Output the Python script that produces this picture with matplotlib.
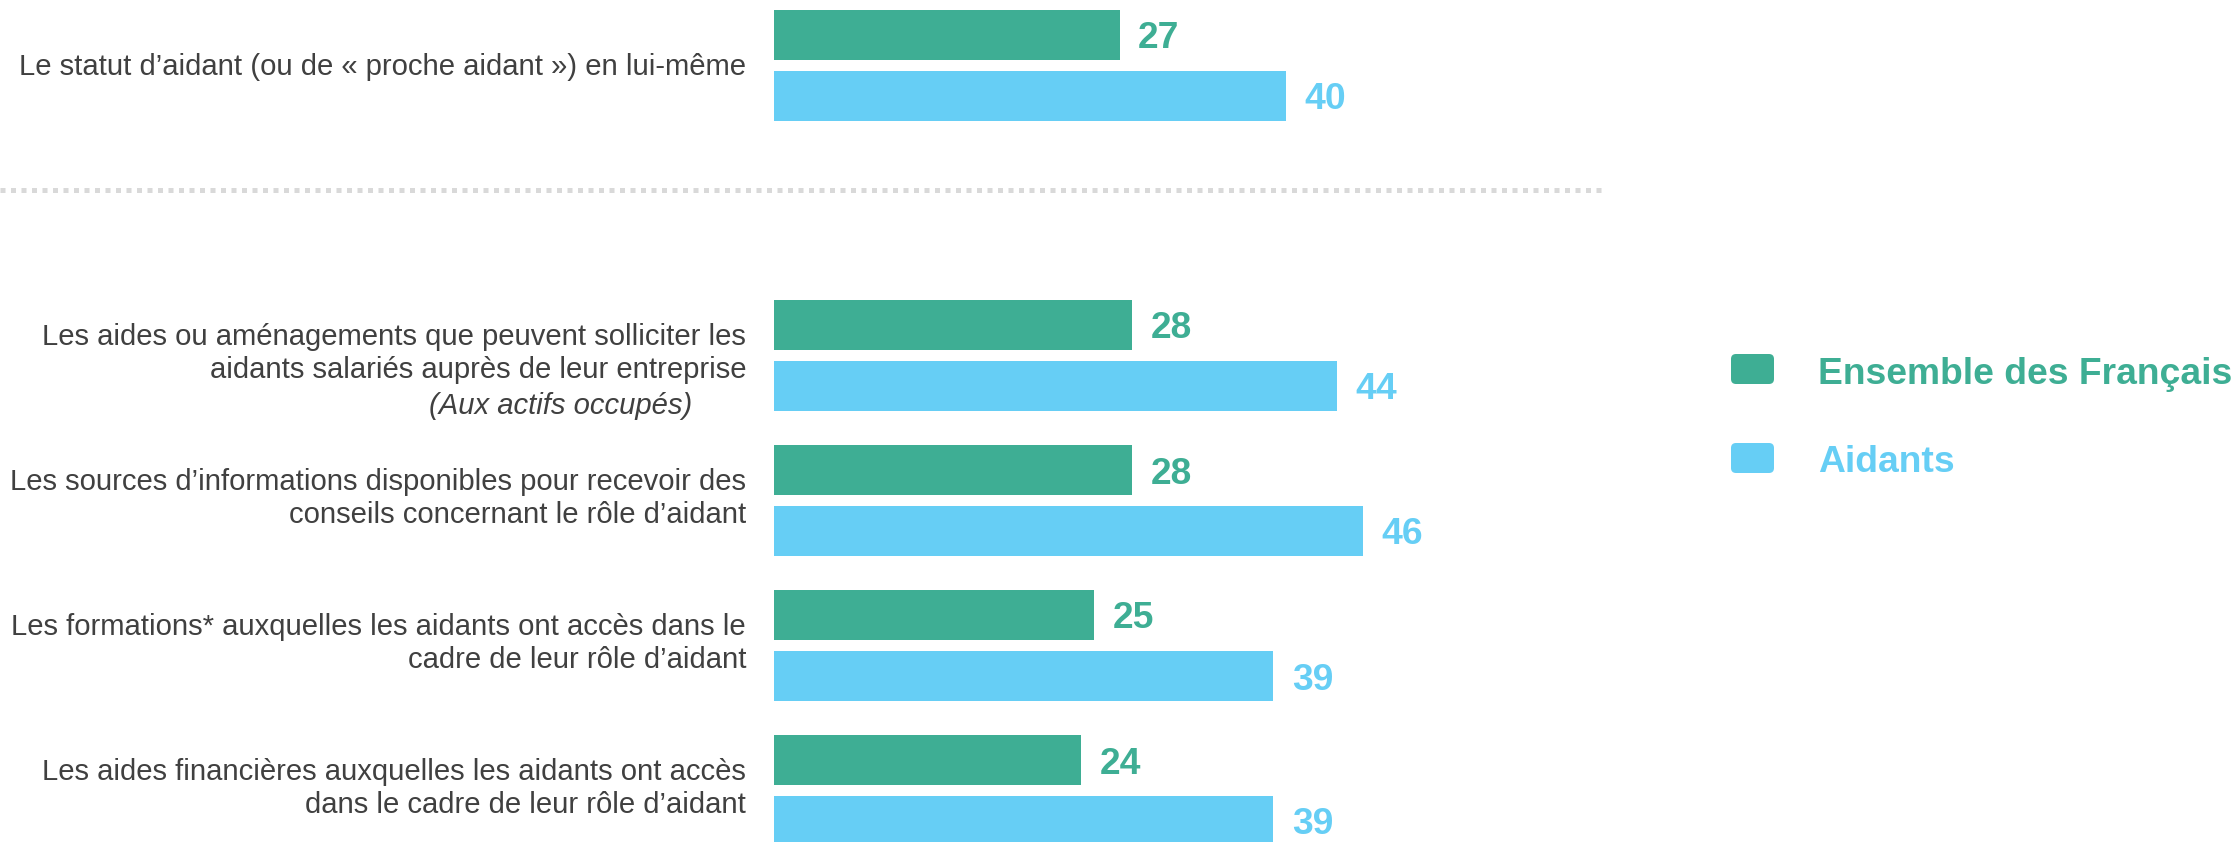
import matplotlib
matplotlib.use("Agg")
import matplotlib.pyplot as plt
from matplotlib.patches import FancyBboxPatch

plt.rcParams['font.family'] = ['Liberation Sans', 'DejaVu Sans']

categories = [
    "Le statut d’aidant (ou de « proche aidant ») en lui-même",
    "Les aides ou aménagements que peuvent solliciter les\naidants salariés auprès de leur entreprise",
    "Les sources d’informations disponibles pour recevoir des\nconseils concernant le rôle d’aidant",
    "Les formations* auxquelles les aidants ont accès dans le\ncadre de leur rôle d’aidant",
    "Les aides financières auxquelles les aidants ont accès\ndans le cadre de leur rôle d’aidant",
]
note_text = "(Aux actifs occupés)"
series_names = ["Ensemble des Français", "Aidants"]
ensemble = [27, 28, 28, 25, 24]
aidants = [40, 44, 46, 39, 39]

GREEN = "#3EAE94"
BLUE = "#66CEF5"
TEXT = "#404040"

W, H = 2236, 842
fig = plt.figure(figsize=(W / 100, H / 100), dpi=100)
ax = fig.add_axes([0, 0, 1, 1])
ax.axis('off')

PX_X = 12.8      # pixels per value unit
PX_Y = 145.0     # pixels per row
x0 = 774.0       # bar origin in pixels
y0 = 65.5        # first row centre in pixels
ax.set_xlim(-x0 / PX_X, (W - x0) / PX_X)
ax.set_ylim(-y0 / PX_Y + H / PX_Y, -y0 / PX_Y)

rows = [0, 2, 3, 4, 5]
bh = 50 / PX_Y
off = 30.5 / PX_Y

ax.barh([r - off for r in rows], ensemble, height=bh, color=GREEN, left=0)
ax.barh([r + off for r in rows], aidants, height=bh, color=BLUE, left=0)

dx = 18.5 / PX_X
vdy = 4 / PX_Y
for r, v in zip(rows, ensemble):
    ax.text(v + dx, r - off + vdy, str(v), color=GREEN, fontsize=26.8,
            fontweight='bold', va='center', ha='left')
for r, v in zip(rows, aidants):
    ax.text(v + dx, r + off + vdy, str(v), color=BLUE, fontsize=26.8,
            fontweight='bold', va='center', ha='left')

lx = -28 / PX_X
for r, c in zip(rows, categories):
    dy = 2 if "\n" not in c else -2
    ax.text(lx, r + dy / PX_Y, c, color=TEXT, fontsize=21.1, ha='right',
            va='center', multialignment='right', linespacing=1.26)
ax.text((692 - x0) / PX_X, rows[1] + (407 - 356) / PX_Y, note_text,
        color=TEXT, fontsize=21.1, style='italic', ha='right', va='center')

# dotted separator
sep_y = (190 - y0) / PX_Y
ax.plot([-x0 / PX_X, (1605 - x0) / PX_X], [sep_y, sep_y], color="#D9D9D9",
        lw=3.6, linestyle=(0, (1, 1.1)), solid_capstyle='butt',
        dash_capstyle='butt')

# legend (pixel coordinate overlay)
lg = fig.add_axes([0, 0, 1, 1])
lg.set_xlim(0, W)
lg.set_ylim(H, 0)
lg.axis('off')
for i, (name, col) in enumerate(zip(series_names, [GREEN, BLUE])):
    top = 354 + i * 89
    lg.add_patch(FancyBboxPatch((1734, top + 3), 37, 24,
                                boxstyle="round,pad=3,rounding_size=5",
                                facecolor=col, edgecolor='none'))
    lg.text(1818, top + 20, name, color=col, fontsize=26.8,
            fontweight='bold', va='center', ha='left')

fig.savefig("out.png", dpi=100, facecolor='white')
